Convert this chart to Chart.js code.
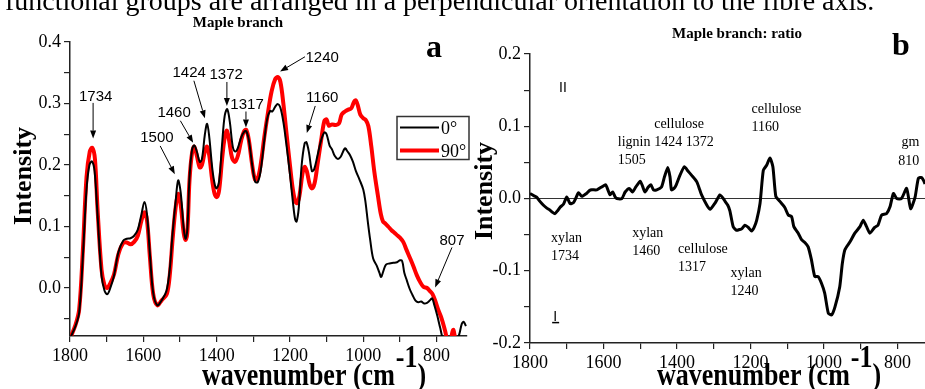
<!DOCTYPE html>
<html>
<head>
<meta charset="utf-8">
<title>Maple branch spectra</title>
<script src="https://cdn.jsdelivr.net/npm/chart.js@4.4.1/dist/chart.umd.min.js"></script>
<style>
  html, body { margin: 0; padding: 0; background: #fff; }
  #page { position: relative; width: 925px; height: 389px; overflow: hidden; }
  #chartA { position: absolute; left: 0; top: 0; }
  #chartB { position: absolute; left: 470px; top: 0; }
  .caption {
    position: absolute; left: 5px; top: -13px;
    font: 28px/28px "Liberation Serif", "Times New Roman", serif;
    white-space: nowrap; color: #000;
  }
</style>
</head>
<body>
<div id="page">
  <canvas id="chartA" width="470" height="389"></canvas>
  <canvas id="chartB" width="455" height="389"></canvas>
  <div class="caption">functional groups are arranged in a perpendicular orientation to the fibre axis.</div>
</div>
<script>
// ---- data ----
// panel a, 0 degree spectrum
const wavenumber0 = [1800, 1785, 1775, 1765, 1755, 1747, 1740, 1733, 1725, 1714, 1706, 1698, 1690, 1680, 1668, 1655, 1645, 1635, 1625, 1615,
  1605, 1597, 1590, 1582, 1573, 1562, 1550, 1537, 1528, 1520, 1512, 1505, 1498, 1490, 1485, 1480, 1474, 1467, 1461, 1454,
  1446, 1440, 1432, 1426, 1420, 1412, 1405, 1400, 1393, 1385, 1378, 1371, 1364, 1356, 1349, 1342, 1333, 1325, 1319, 1312,
  1303, 1295, 1288, 1280, 1270, 1262, 1254, 1248, 1240, 1233, 1226, 1218, 1210, 1200, 1192, 1186, 1182, 1176, 1168, 1160,
  1155, 1148, 1140, 1134, 1125, 1115, 1106, 1100, 1092, 1085, 1078, 1070, 1062, 1050, 1043, 1036, 1028, 1020, 1010, 1000,
  994, 988, 981, 973, 963, 956, 951, 945, 938, 928, 918, 908, 900, 894, 888, 881, 873, 866, 858, 850,
  842, 834, 826, 818, 812, 806, 798, 790, 780, 760, 745, 738, 731, 726, 720];
const intensity0 = [-0.082, -0.062, -0.04, 0.05, 0.16, 0.2, 0.206, 0.19, 0.12, 0.02, -0.004, -0.01, 0.0, 0.02, 0.058, 0.077, 0.08, 0.081, 0.085, 0.095,
  0.12, 0.14, 0.12, 0.055, -0.008, -0.028, -0.02, -0.005, 0.03, 0.09, 0.14, 0.175, 0.155, 0.098, 0.08, 0.095, 0.18, 0.225, 0.232, 0.222,
  0.205, 0.21, 0.25, 0.267, 0.245, 0.195, 0.168, 0.162, 0.175, 0.235, 0.28, 0.291, 0.27, 0.23, 0.222, 0.228, 0.245, 0.254, 0.255, 0.24,
  0.2, 0.173, 0.172, 0.19, 0.24, 0.275, 0.288, 0.287, 0.295, 0.299, 0.293, 0.27, 0.235, 0.185, 0.14, 0.112, 0.108, 0.13, 0.2, 0.235,
  0.237, 0.22, 0.19, 0.193, 0.215, 0.24, 0.253, 0.25, 0.232, 0.225, 0.215, 0.21, 0.213, 0.227, 0.222, 0.216, 0.205, 0.19, 0.176, 0.16,
  0.14, 0.11, 0.078, 0.048, 0.036, 0.025, 0.018, 0.028, 0.038, 0.04, 0.041, 0.042, 0.045, 0.044, 0.025, 0.012, -0.002, -0.011, -0.02, -0.023,
  -0.022, -0.025, -0.024, -0.02, -0.017, -0.028, -0.045, -0.065, -0.085, -0.09, -0.085, -0.075, -0.058, -0.055, -0.062];

// panel a, 90 degree spectrum
const wavenumber90 = [1800, 1785, 1775, 1765, 1755, 1746, 1739, 1732, 1725, 1714, 1706, 1699, 1690, 1680, 1668, 1655, 1645, 1635, 1625, 1615,
  1605, 1597, 1590, 1582, 1573, 1562, 1550, 1536, 1528, 1520, 1512, 1505, 1498, 1490, 1485, 1480, 1474, 1467, 1461, 1454,
  1446, 1440, 1432, 1426, 1420, 1412, 1405, 1399, 1393, 1385, 1378, 1372, 1366, 1358, 1350, 1342, 1333, 1325, 1319, 1312,
  1303, 1295, 1288, 1280, 1270, 1260, 1250, 1240, 1233, 1226, 1218, 1210, 1200, 1192, 1185, 1180, 1174, 1166, 1160, 1154,
  1146, 1140, 1133, 1125, 1115, 1106, 1100, 1094, 1085, 1075, 1066, 1059, 1050, 1041, 1033, 1025, 1020, 1014, 1008, 1000,
  993, 986, 978, 970, 960, 952, 946, 940, 932, 923, 915, 908, 900, 891, 882, 872, 863, 854, 845, 836,
  826, 818, 811, 803, 795, 786, 777, 770, 763, 757, 754, 750, 745];
const intensity90 = [-0.082, -0.06, -0.035, 0.06, 0.18, 0.222, 0.228, 0.21, 0.13, 0.03, 0.005, 0.0, 0.008, 0.022, 0.055, 0.073, 0.074, 0.071, 0.075, 0.085,
  0.11, 0.123, 0.11, 0.05, -0.01, -0.028, -0.02, -0.01, 0.02, 0.08, 0.13, 0.153, 0.135, 0.09, 0.078, 0.09, 0.175, 0.22, 0.23, 0.215,
  0.196, 0.2, 0.222, 0.23, 0.215, 0.175, 0.152, 0.148, 0.16, 0.21, 0.245, 0.256, 0.24, 0.212, 0.205, 0.215, 0.24, 0.255, 0.257, 0.24,
  0.2, 0.176, 0.178, 0.2, 0.245, 0.285, 0.32, 0.34, 0.343, 0.335, 0.3, 0.255, 0.2, 0.16, 0.14, 0.138, 0.15, 0.185, 0.197, 0.19,
  0.168, 0.162, 0.17, 0.2, 0.24, 0.272, 0.274, 0.264, 0.266, 0.265, 0.268, 0.282, 0.287, 0.29, 0.292, 0.303, 0.305, 0.295, 0.282, 0.276,
  0.273, 0.263, 0.23, 0.19, 0.15, 0.12, 0.108, 0.105, 0.1, 0.094, 0.09, 0.086, 0.082, 0.075, 0.062, 0.048, 0.035, 0.021, 0.01, 0.002,
  0.0, -0.005, -0.01, -0.022, -0.036, -0.05, -0.069, -0.085, -0.088, -0.072, -0.068, -0.08, -0.1];

// panel b, ratio spectrum
const wavenumberRatio = [1800, 1790, 1782, 1773, 1764, 1755, 1746, 1739, 1732, 1725, 1718, 1709, 1700, 1691, 1682, 1674, 1668, 1659, 1646, 1638,
  1632, 1618, 1605, 1594, 1588, 1582, 1575, 1568, 1564, 1550, 1541, 1530, 1521, 1512, 1500, 1493, 1487, 1478, 1471, 1464,
  1455, 1442, 1434, 1425, 1419, 1415, 1408, 1402, 1392, 1380, 1370, 1360, 1346, 1338, 1333, 1319, 1310, 1296, 1283, 1274,
  1269, 1262, 1256, 1247, 1238, 1230, 1224, 1215, 1206, 1197, 1190, 1183, 1174, 1165, 1156, 1147, 1139, 1131, 1120, 1107,
  1097, 1088, 1082, 1070, 1061, 1052, 1043, 1034, 1025, 1016, 1007, 998, 988, 979, 970, 957, 950, 943, 929, 916,
  902, 893, 884, 875, 862, 853, 843, 830, 820, 811, 802, 789, 775, 764, 752, 743, 734, 728, 725];
const intensityRatio = [0.007, 0.004, 0.002, -0.004, -0.009, -0.013, -0.016, -0.019, -0.021, -0.017, -0.012, -0.008, 0.002, -0.007, -0.006, 0.002, 0.008, 0.003, 0.007, 0.011,
  0.012, 0.012, 0.016, 0.019, 0.012, 0.005, 0.009, 0.002, 0.0, 0.0, 0.009, 0.014, 0.009, 0.016, 0.024, 0.016, 0.009, 0.016, 0.019, 0.012,
  0.012, 0.016, 0.03, 0.043, 0.03, 0.012, 0.014, 0.019, 0.032, 0.044, 0.038, 0.032, 0.023, 0.012, 0.005, -0.009, -0.015, -0.006, 0.005, 0.0,
  -0.004, -0.009, -0.017, -0.039, -0.044, -0.043, -0.042, -0.037, -0.04, -0.045, -0.04, -0.03, -0.007, 0.039, 0.046, 0.056, 0.044, 0.003, -0.004, -0.012,
  -0.023, -0.025, -0.039, -0.048, -0.057, -0.061, -0.067, -0.085, -0.108, -0.108, -0.117, -0.131, -0.159, -0.161, -0.15, -0.122, -0.09, -0.071, -0.06, -0.048,
  -0.039, -0.03, -0.039, -0.048, -0.04, -0.037, -0.023, -0.021, -0.011, 0.007, 0.0, 0.0, 0.014, -0.014, 0.002, 0.028, 0.029, 0.024, 0.02];

// ticks
const xTicks = [1800, 1700, 1600, 1500, 1400, 1300, 1200, 1100, 1000, 900, 800];
const yTicksA = [-0.05, 0, 0.05, 0.1, 0.15, 0.2, 0.25, 0.3, 0.35, 0.4];
const yTicksB = [-0.2, -0.15, -0.1, -0.05, 0, 0.05, 0.1, 0.15, 0.2];

// peak annotations (text, label position, arrow tail, arrow head) in data units
const peakNotesA = [
  { text: "1734", at: [1730, 0.311], from: [1737, 0.301], to: [1737, 0.243] },
  { text: "1500", at: [1563, 0.244], from: [1554, 0.231], to: [1514, 0.185] },
  { text: "1460", at: [1516, 0.285], from: [1499, 0.272], to: [1464, 0.236] },
  { text: "1424", at: [1475, 0.350], from: [1462, 0.337], to: [1432, 0.276] },
  { text: "1372", at: [1374, 0.347], from: [1372, 0.335], to: [1372, 0.296] },
  { text: "1317", at: [1317, 0.298], from: [1320, 0.287], to: [1320, 0.261] },
  { text: "1240", at: [1112, 0.374], from: [1159, 0.376], to: [1227, 0.352] },
  { text: "1160", at: [1112, 0.309], from: [1131, 0.296], to: [1154, 0.252] },
  { text: "807", at: [758, 0.076], from: [758, 0.066], to: [804, 0.001] }
];
const bandNotesB = [
  { lines: ["lignin", "1505"], at: [1561, 0.072] },
  { lines: ["cellulose", "1424 1372"], at: [1462, 0.097] },
  { lines: ["cellulose", "1160"], at: [1197, 0.118] },
  { lines: ["gm", ""], at: [789, 0.072] },
  { lines: ["810"], at: [798, 0.046] },
  { lines: ["xylan", "1734"], at: [1743, -0.060] },
  { lines: ["xylan", "1460"], at: [1522, -0.053] },
  { lines: ["cellulose", "1317"], at: [1397, -0.075] },
  { lines: ["xylan", "1240"], at: [1254, -0.108] }
];

const serif = "'Liberation Serif', 'Times New Roman', serif";
const sans = "'Liberation Sans', Arial, sans-serif";

function drawArrow(ctx, x1, y1, x2, y2) {
  const ang = Math.atan2(y2 - y1, x2 - x1);
  const len = 8, half = 3;
  ctx.beginPath();
  ctx.moveTo(x1, y1);
  ctx.lineTo(x2 - Math.cos(ang) * len, y2 - Math.sin(ang) * len);
  ctx.stroke();
  ctx.beginPath();
  ctx.moveTo(x2, y2);
  ctx.lineTo(x2 - Math.cos(ang) * len - Math.sin(ang) * half, y2 - Math.sin(ang) * len + Math.cos(ang) * half);
  ctx.lineTo(x2 - Math.cos(ang) * len + Math.sin(ang) * half, y2 - Math.sin(ang) * len - Math.cos(ang) * half);
  ctx.closePath();
  ctx.fill();
}

// x title with a superscript -1 (the original lettering is a bit tall, hence the scale)
function drawWaveTitle(ctx, left, base) {
  ctx.save();
  ctx.translate(left, base);
  ctx.scale(1, 1.2);
  ctx.font = "bold 26px " + serif;
  ctx.textAlign = "left";
  ctx.textBaseline = "alphabetic";
  const main = "wavenumber (cm";
  ctx.fillText(main, 0, 0);
  let x = ctx.measureText(main).width + 1;
  ctx.fillText("-1", x, -15);
  x += ctx.measureText("-1").width;
  ctx.fillText(")", x, 0);
  ctx.restore();
}

function drawYTitle(ctx, x, y) {
  ctx.save();
  ctx.translate(x, y);
  ctx.rotate(-Math.PI / 2);
  ctx.font = "bold 26px " + serif;
  ctx.textAlign = "center";
  ctx.textBaseline = "alphabetic";
  ctx.fillText("Intensity", 0, 0);
  ctx.restore();
}

// draws titles, annotations and the legend for each panel
const panelDecor = {
  id: "panelDecor",
  beforeDatasetsDraw(chart, args, opts) {
    if (!opts.zeroLine) return;
    const ctx = chart.ctx, area = chart.chartArea;
    const y0 = chart.scales.y.getPixelForValue(0);
    ctx.save();
    ctx.strokeStyle = "#333";
    ctx.lineWidth = 1.2;
    ctx.beginPath();
    ctx.moveTo(area.left, y0);
    ctx.lineTo(area.right, y0);
    ctx.stroke();
    ctx.restore();
  },
  afterDatasetsDraw(chart, args, opts) {
    const ctx = chart.ctx;
    const xs = chart.scales.x, ys = chart.scales.y;
    const px = (w) => xs.getPixelForValue(w);
    const py = (v) => ys.getPixelForValue(v);
    ctx.save();
    ctx.fillStyle = "#000";
    ctx.strokeStyle = "#000";

    // panel title and letter
    ctx.font = "bold 15px " + serif;
    ctx.textAlign = "center";
    ctx.textBaseline = "alphabetic";
    ctx.fillText(opts.title, opts.titleX, opts.titleY);
    ctx.font = "bold 32px " + serif;
    ctx.fillText(opts.letter, opts.letterX, opts.letterY);

    drawYTitle(ctx, opts.yTitleX, opts.yTitleY);
    drawWaveTitle(ctx, opts.xTitleLeft, 385);

    if (opts.arrows) {
      ctx.font = "15px " + sans;
      ctx.textAlign = "center";
      ctx.textBaseline = "middle";
      ctx.lineWidth = 1;
      opts.arrows.forEach(n => {
        ctx.fillText(n.text, px(n.at[0]), py(n.at[1]));
        drawArrow(ctx, px(n.from[0]), py(n.from[1]), px(n.to[0]), py(n.to[1]));
      });
    }

    if (opts.bands) {
      ctx.font = "14px " + serif;
      ctx.textAlign = "left";
      ctx.textBaseline = "alphabetic";
      opts.bands.forEach(n => {
        n.lines.forEach((line, i) => {
          ctx.fillText(line, px(n.at[0]), py(n.at[1]) + i * 18);
        });
      });
      // orientation marks II and I
      ctx.font = "14px " + sans;
      ctx.fillText("II", px(1721), py(0.148));
      const ix = px(1737), iy = py(-0.169);
      ctx.fillText("I", ix, iy);
      ctx.lineWidth = 1.5;
      ctx.beginPath();
      ctx.moveTo(ix - 1, iy + 2);
      ctx.lineTo(ix + 6, iy + 2);
      ctx.stroke();
    }

    if (opts.legend) {
      const b = opts.legend;
      ctx.strokeStyle = "#333";
      ctx.lineWidth = 1.5;
      ctx.strokeRect(b.x, b.y, b.w, b.h);
      ctx.font = "18px " + serif;
      ctx.textAlign = "left";
      ctx.textBaseline = "alphabetic";
      chart.data.datasets.forEach((ds, i) => {
        const ly = b.y + 11 + i * 23;
        ctx.strokeStyle = ds.borderColor;
        ctx.lineWidth = ds.borderWidth;
        ctx.beginPath();
        ctx.moveTo(b.x + 3, ly);
        ctx.lineTo(b.x + 42, ly);
        ctx.stroke();
        ctx.fillText(ds.label, b.x + 44, ly + 6);
      });
    }
    ctx.restore();
  }
};

function toPoints(xsArr, ysArr) {
  return xsArr.map((w, i) => ({ x: w, y: ysArr[i] }));
}

function isMajor(v) {
  return Math.abs(v * 10 - Math.round(v * 10)) < 1e-6;
}

function axes(xMin, yMin, yMax, yTicks, yWidth, xHeight) {
  const grid = { display: true, drawOnChartArea: false, drawTicks: true, tickLength: 6, color: "#222", lineWidth: 1.2 };
  const border = { display: true, color: "#222", width: 1.5 };
  return {
    x: {
      type: "linear", reverse: true, min: xMin, max: 1800,
      afterBuildTicks: (s) => { s.ticks = xTicks.map(v => ({ value: v })); },
      afterFit: (s) => { s.height = xHeight; },
      ticks: {
        autoSkip: false, maxRotation: 0, padding: 3, color: "#000",
        font: { family: serif, size: 18 },
        callback: (v) => (v % 200 === 0 ? String(v) : "")
      },
      grid: grid, border: border
    },
    y: {
      type: "linear", min: yMin, max: yMax,
      afterBuildTicks: (s) => { s.ticks = yTicks.map(v => ({ value: v })); },
      afterFit: (s) => { s.width = yWidth; },
      ticks: {
        autoSkip: false, padding: 3, color: "#000",
        font: { family: serif, size: 18 },
        callback: (v) => (isMajor(v) ? v.toFixed(1) : "")
      },
      grid: grid, border: border
    }
  };
}

// ---- panel a ----
new Chart(document.getElementById("chartA"), {
  type: "line",
  data: {
    datasets: [
      { label: "0°", data: toPoints(wavenumber0, intensity0), borderColor: "#000", borderWidth: 2, pointRadius: 0, tension: 0.35, clip: 0 },
      { label: "90°", data: toPoints(wavenumber90, intensity90), borderColor: "#ff0000", borderWidth: 4, pointRadius: 0, tension: 0.35, clip: 0 }
    ]
  },
  options: {
    responsive: false,
    animation: false,
    layout: { padding: { top: 42, right: 3, left: 0, bottom: 0 } },
    scales: axes(717, -0.078, 0.4, yTicksA, 70, 53),
    plugins: {
      legend: { display: false },
      tooltip: { enabled: false },
      panelDecor: {
        title: "Maple branch", titleX: 238, titleY: 27,
        letter: "a", letterX: 434, letterY: 57,
        yTitleX: 31, yTitleY: 176, xTitleLeft: 202,
        arrows: peakNotesA,
        legend: { x: 397, y: 116.5, w: 72, h: 43 }
      }
    }
  },
  plugins: [panelDecor]
});

// ---- panel b ----
new Chart(document.getElementById("chartB"), {
  type: "line",
  data: {
    datasets: [
      { label: "ratio", data: toPoints(wavenumberRatio, intensityRatio), borderColor: "#000", borderWidth: 3, pointRadius: 0, tension: 0.2, clip: 0 }
    ]
  },
  options: {
    responsive: false,
    animation: false,
    layout: { padding: { top: 54, right: 0, left: 0, bottom: 0 } },
    scales: axes(725, -0.2, 0.2, yTicksB, 60, 46),
    plugins: {
      legend: { display: false },
      tooltip: { enabled: false },
      panelDecor: {
        title: "Maple branch: ratio", titleX: 267, titleY: 38,
        letter: "b", letterX: 431, letterY: 55,
        yTitleX: 22, yTitleY: 191, xTitleLeft: 187,
        zeroLine: true,
        bands: bandNotesB
      }
    }
  },
  plugins: [panelDecor]
});
</script>
</body>
</html>
